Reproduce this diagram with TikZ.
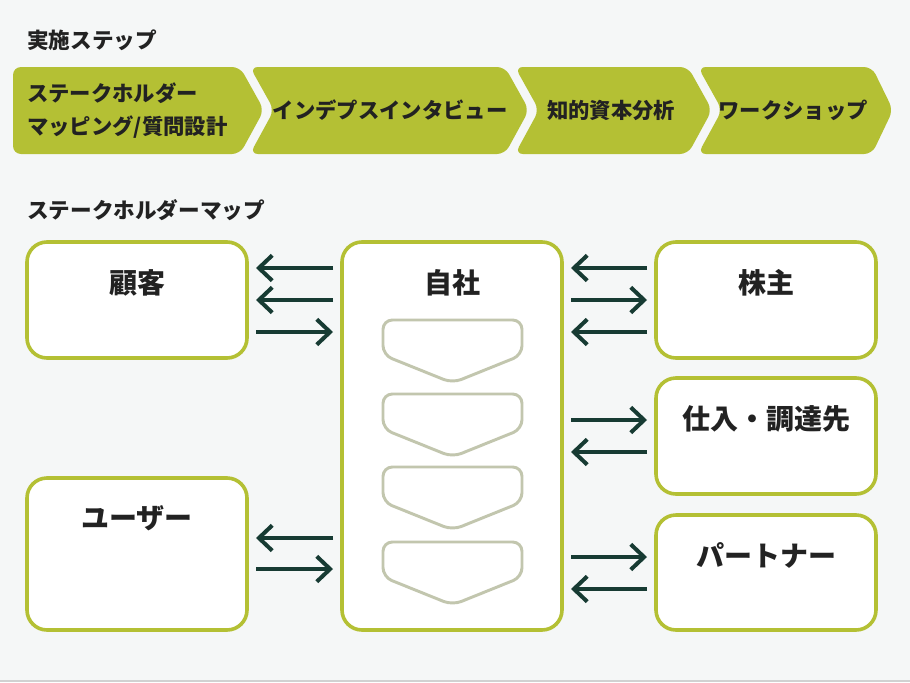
\documentclass[tikz,border=0pt]{standalone}
\usepackage{fontspec}
\setmainfont{Noto Sans CJK JP}
\usetikzlibrary{arrows.meta,calc}
\definecolor{bgc}{HTML}{F5F7F7}
\definecolor{olive}{HTML}{B4C034}
\definecolor{arrc}{HTML}{173B33}
\definecolor{txt}{HTML}{222222}
\definecolor{chev}{HTML}{C2C6AE}
\tikzset{
  stepshape/.style={fill=olive, draw=none, rounded corners=6},
  steptext/.style={text=txt, font=\fontsize{16}{24.75}\selectfont\bfseries, inner sep=0pt},
  heading/.style={text=txt, font=\fontsize{16.2}{18}\selectfont\bfseries, anchor=west, inner sep=0pt},
  sbox/.style={draw=olive, line width=2.7pt, fill=white, rounded corners=15pt},
  boxlabel/.style={text=txt, font=\fontsize{21}{24}\selectfont\bfseries, inner sep=0pt},
  minichev/.style={draw=chev, line width=2.2pt, fill=white, rounded corners=7pt},
  arr/.style={draw=arrc, line width=3pt, -{Straight Barb[length=10pt,width=19pt,line width=3pt]}},
}
\begin{document}
\begin{tikzpicture}[x=0.75pt,y=-0.75pt]
\useasboundingbox (0,0) rectangle (910,682);
\fill[bgc] (0,0) rectangle (910,682);
\draw[black!18, line width=1pt] (0,681) -- (910,681);

% headings
\node[heading] (h1) at (27,40) {実施ステップ};
\node[heading] (h2) at (27,210) {ステークホルダーマップ};

% step chevrons
\fill[stepshape] (13,67) -- (240,67) -- (264,110) -- (240,154) -- (13,154) -- cycle;
\fill[stepshape] (250,67) -- (505,67) -- (529,110) -- (505,154) -- (250,154) -- (274,110) -- cycle;
\fill[stepshape] (515,67) -- (688,67) -- (712,110) -- (688,154) -- (515,154) -- (539,110) -- cycle;
\fill[stepshape] (698,67) -- (872,67) -- (893,110) -- (872,154) -- (698,154) -- (722,110) -- cycle;

\node[steptext, anchor=west, align=left] (s1) at (27,110.5) {ステークホルダー\\マッピング/質問設計};
\node[steptext] (s2) at (390,110) {インデプスインタビュー};
\node[steptext] (s3) at (611,110) {知的資本分析};
\node[steptext] (s4) at (793,110) {ワークショップ};

% stakeholder boxes
\draw[sbox] (27,242) rectangle (247,358);
\draw[sbox] (27,478) rectangle (247,630);
\draw[sbox] (342,242) rectangle (562,630);
\draw[sbox] (656,242) rectangle (876,358);
\draw[sbox] (656,378) rectangle (876,494);
\draw[sbox] (656,515) rectangle (876,630);

\coordinate (kokyaku) at (247,300);
\coordinate (user) at (247,554);
\coordinate (jishaL) at (342,436);
\coordinate (jishaR) at (562,436);
\coordinate (kabunushi) at (656,300);
\coordinate (shiire) at (656,436);
\coordinate (partner) at (656,572);

\node[boxlabel] (t1) at (137,283) {顧客};
\node[boxlabel] (t2) at (137,518) {ユーザー};
\node[boxlabel] (t3) at (452,283) {自社};
\node[boxlabel] (t4) at (766,283) {株主};
\node[boxlabel] (t5) at (766,419) {仕入・調達先};
\node[boxlabel] (t6) at (766,555) {パートナー};

% mini chevrons inside 自社
\foreach \y [count=\i] in {320,394,467,542}{
  \draw[minichev] (383,\y) -- (522,\y) -- (522,\y+35) -- (452.5,\y+63) -- (383,\y+35) -- cycle;
}

% arrows left (顧客)
\draw[arr] ($(jishaL|-0,268)+(-9,0)$) -- ($(kokyaku|-0,268)+(9,0)$);
\draw[arr] ($(jishaL|-0,300)+(-9,0)$) -- ($(kokyaku|-0,300)+(9,0)$);
\draw[arr] ($(kokyaku|-0,332)+(9,0)$) -- ($(jishaL|-0,332)+(-9,0)$);
% arrows left (ユーザー)
\draw[arr] ($(jishaL|-0,538)+(-9,0)$) -- ($(user|-0,538)+(9,0)$);
\draw[arr] ($(user|-0,569)+(9,0)$) -- ($(jishaL|-0,569)+(-9,0)$);
% arrows right (株主)
\draw[arr] ($(kabunushi|-0,268)+(-9,0)$) -- ($(jishaR|-0,268)+(9,0)$);
\draw[arr] ($(jishaR|-0,300)+(9,0)$) -- ($(kabunushi|-0,300)+(-9,0)$);
\draw[arr] ($(kabunushi|-0,332)+(-9,0)$) -- ($(jishaR|-0,332)+(9,0)$);
% arrows right (仕入・調達先)
\draw[arr] ($(jishaR|-0,420)+(9,0)$) -- ($(shiire|-0,420)+(-9,0)$);
\draw[arr] ($(shiire|-0,452)+(-9,0)$) -- ($(jishaR|-0,452)+(9,0)$);
% arrows right (パートナー)
\draw[arr] ($(jishaR|-0,557)+(9,0)$) -- ($(partner|-0,557)+(-9,0)$);
\draw[arr] ($(partner|-0,589)+(-9,0)$) -- ($(jishaR|-0,589)+(9,0)$);
\end{tikzpicture}
\end{document}
